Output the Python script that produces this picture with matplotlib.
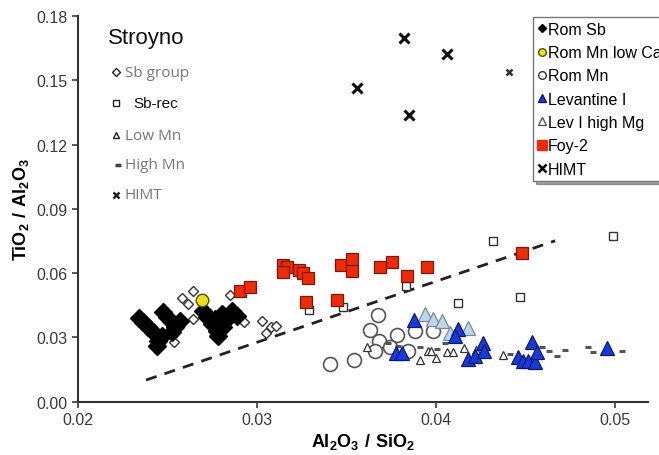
import matplotlib
matplotlib.use("Agg")
import matplotlib.pyplot as plt
from matplotlib.lines import Line2D

plt.rcParams['font.family'] = ['Liberation Sans', 'DejaVu Sans']
plt.rcParams['mathtext.fontset'] = 'custom'
plt.rcParams['mathtext.rm'] = 'Liberation Sans:bold'
plt.rcParams['mathtext.bf'] = 'Liberation Sans:bold'

# Rom Sb (black diamonds)
rom_sb_x = [0.02341, 0.02363, 0.02391, 0.02419, 0.02447, 0.02441, 0.02475, 0.02497,
            0.02469, 0.02542, 0.02570, 0.02525, 0.02698, 0.02721, 0.02749, 0.02777,
            0.02782, 0.02810, 0.02804, 0.02860, 0.02888, 0.02821, 0.02765]
rom_sb_y = [0.0391, 0.0373, 0.0349, 0.0326, 0.0284, 0.0260, 0.0419, 0.0396,
            0.0307, 0.0349, 0.0377, 0.0326, 0.0424, 0.0396, 0.0363, 0.0330,
            0.0307, 0.0349, 0.0410, 0.0424, 0.0400, 0.0377, 0.0387]

# Rom Mn low Ca (yellow circle)
rom_mn_lowca_x = [0.02693]
rom_mn_lowca_y = [0.0475]

# Rom Mn (open circles)
rom_mn_x = [0.03408, 0.03542, 0.03676, 0.03631, 0.03682, 0.03659, 0.03782, 0.03743,
            0.03844, 0.03883, 0.03983]
rom_mn_y = [0.0176, 0.0195, 0.0405, 0.0335, 0.0284, 0.0237, 0.0312, 0.0256,
            0.0237, 0.0331, 0.0331]

# Levantine I (blue triangles)
lev_x = [0.03877, 0.03777, 0.03810, 0.04123, 0.04106, 0.04179, 0.04218, 0.04263,
         0.04268, 0.04458, 0.04486, 0.04514, 0.04536, 0.04553, 0.04564, 0.04955]
lev_y = [0.0382, 0.0228, 0.0228, 0.0340, 0.0307, 0.0200, 0.0214, 0.0274,
         0.0237, 0.0209, 0.0190, 0.0190, 0.0279, 0.0186, 0.0232, 0.0251]

# Lev I high Mg (light blue triangles)
lev_mg_x = [0.03939, 0.03983, 0.04034, 0.04078, 0.04179]
lev_mg_y = [0.0410, 0.0387, 0.0377, 0.0321, 0.0345]

# Foy-2 (red squares)
foy_x = [0.02905, 0.02961, 0.03145, 0.03168, 0.03145, 0.03235, 0.03257, 0.03285,
         0.03274, 0.03447, 0.03469, 0.03531, 0.03531, 0.03687, 0.03754, 0.03838,
         0.03950, 0.04480]
foy_y = [0.0518, 0.0536, 0.0639, 0.0630, 0.0606, 0.0616, 0.0602, 0.0578,
         0.0466, 0.0475, 0.0639, 0.0667, 0.0611, 0.0630, 0.0653, 0.0588,
         0.0630, 0.0695]

# HIMT (crosses)
himt_x = [0.0382, 0.0406, 0.0356, 0.0385]
himt_y = [0.1696, 0.1625, 0.1462, 0.1336]

# Stroyno groups
sb_group_x = [0.02581, 0.02615, 0.02642, 0.02497, 0.02642, 0.02536, 0.02849, 0.02927,
              0.03028, 0.03050, 0.03078, 0.03106]
sb_group_y = [0.0485, 0.0457, 0.0517, 0.0377, 0.0387, 0.0279, 0.0499, 0.0373,
              0.0377, 0.0321, 0.0349, 0.0354]
sb_rec_x = [0.03291, 0.03480, 0.03832, 0.04123, 0.04318, 0.04469, 0.04989]
sb_rec_y = [0.0429, 0.0443, 0.0541, 0.0461, 0.0751, 0.0489, 0.0775]
low_mn_x = [0.03615, 0.03911, 0.03955, 0.03972, 0.04000, 0.04061, 0.04095, 0.04156,
            0.04223, 0.04374]
low_mn_y = [0.0256, 0.0195, 0.0237, 0.0237, 0.0204, 0.0232, 0.0232, 0.0251,
            0.0242, 0.0218]
high_mn_x = [0.03732, 0.03788, 0.03911, 0.04006, 0.04050, 0.04413, 0.04592, 0.04631,
             0.04676, 0.04721, 0.04849, 0.04877, 0.05039]
high_mn_y = [0.0274, 0.0260, 0.0256, 0.0246, 0.0274, 0.0223, 0.0256, 0.0237,
             0.0214, 0.0242, 0.0256, 0.0232, 0.0237]
s_himt_x = [0.0441]
s_himt_y = [0.1541]

# dashed discrimination line
line_x = [0.02380, 0.04665]
line_y = [0.0101, 0.0751]

x_ticks = [0.02, 0.03, 0.04, 0.05]
y_ticks = [0.00, 0.03, 0.06, 0.09, 0.12, 0.15, 0.18]

fig = plt.figure(figsize=(6.59, 4.56), dpi=100)
ax = fig.add_axes([0.1184, 0.1169, 0.8650, 0.8458])

ax.plot(line_x, line_y, ls=(0, (4, 3)), color='#222222', lw=2, zorder=1)

ax.plot(rom_mn_x, rom_mn_y, 'o', ms=10, mfc='white', mec='#555555', mew=1.2, ls='none', zorder=2)
ax.plot(sb_group_x, sb_group_y, 'D', ms=5, mfc='white', mec='#333333', mew=1, ls='none', zorder=3)
ax.plot(sb_rec_x, sb_rec_y, 's', ms=5.5, mfc='white', mec='#333333', mew=1, ls='none', zorder=3)
ax.plot(low_mn_x, low_mn_y, '^', ms=6, mfc='white', mec='#333333', mew=0.9, ls='none', zorder=3)
ax.plot(high_mn_x, high_mn_y, '_', ms=5, mec='#555555', mew=2.2, ls='none', zorder=3)
ax.plot(rom_sb_x, rom_sb_y, 'D', ms=9.5, mfc='black', mec='black', ls='none', zorder=4)
ax.plot(rom_mn_lowca_x, rom_mn_lowca_y, 'o', ms=9, mfc='#e8e020', mec='#555500', mew=1, ls='none', zorder=5)
ax.plot(foy_x, foy_y, 's', ms=9, mfc='#ee2a0a', mec='#7a1a08', mew=0.9, ls='none', zorder=4)
ax.plot(lev_mg_x, lev_mg_y, '^', ms=10.5, mfc='#bcd6ea', mec='#7a8a99', mew=0.9, ls='none', zorder=4)
ax.plot(lev_x, lev_y, '^', ms=10.5, mfc='#1a3ad8', mec='#0a1a70', mew=0.9, ls='none', zorder=5)
ax.plot(himt_x, himt_y, 'x', ms=7, mec='#111111', mew=2.2, ls='none', zorder=4)
ax.plot(s_himt_x, s_himt_y, 'x', ms=5, mec='#333333', mew=1.8, ls='none', zorder=4)

ax.set_xlim(0.02, 0.05184)
ax.set_ylim(0.0, 0.18)
ax.set_xticks(x_ticks)
ax.set_xticklabels([f'{v:.2f}' for v in x_ticks])
ax.set_yticks(y_ticks)
ax.set_yticklabels([f'{v:.2f}' for v in y_ticks])
ax.tick_params(labelsize=11.5, colors='#3a3a3a', length=4, width=1.2, direction='out')
for side in ['top', 'right']:
    ax.spines[side].set_visible(False)
for side in ['left', 'bottom']:
    ax.spines[side].set_linewidth(1.5)
    ax.spines[side].set_color('#333333')

ax.set_xlabel(r'$\mathbf{Al_2O_3\ /\ SiO_2}$', fontsize=13, labelpad=3)
ax.set_ylabel(r'$\mathbf{TiO_2\ /\ Al_2O_3}$', fontsize=13, labelpad=4)

# Stroyno key
ax.text(0.052, 0.943, 'Stroyno', transform=ax.transAxes, fontsize=16, va='center', color='#111111')
key = [
    ('D', 0.854, 'Sb group', '#777777', 'Open Sans', 4),
    ('s', 0.774, 'Sb-rec', '#111111', 'Liberation Sans', 5),
    ('^', 0.691, 'Low Mn', '#777777', 'Open Sans', 5),
    ('_', 0.614, 'High Mn', '#777777', 'Open Sans', 4),
    ('x', 0.536, 'HIMT', '#777777', 'Open Sans', 4.5),
]
for m, fy, lab, col, fam, ms in key:
    if m == '_':
        ax.plot([0.070], [fy], m, ms=ms, mec='#444444', mew=2.5, transform=ax.transAxes, clip_on=False)
    elif m == 'x':
        ax.plot([0.067], [fy], m, ms=ms, mec='#222222', mew=1.8, transform=ax.transAxes, clip_on=False)
    else:
        ax.plot([0.067], [fy], m, ms=ms, mfc='white', mec='#222222', mew=1, transform=ax.transAxes, clip_on=False)
    tx = 0.097 if lab == 'Sb-rec' else 0.082
    ax.text(tx, fy, lab, transform=ax.transAxes, fontsize=11, va='center', color=col, family=fam)

handles = [
    Line2D([], [], marker='D', ms=4, mfc='black', mec='black', ls='none'),
    Line2D([], [], marker='o', ms=5.5, mfc='#e8e020', mec='#555500', ls='none'),
    Line2D([], [], marker='o', ms=5.5, mfc='white', mec='#333333', ls='none'),
    Line2D([], [], marker='^', ms=6, mfc='#1a3ad8', mec='#0a1a70', ls='none'),
    Line2D([], [], marker='^', ms=6, mfc='white', mec='#555555', ls='none'),
    Line2D([], [], marker='s', ms=6.5, mfc='#ee2a0a', mec='#ee2a0a', ls='none'),
    Line2D([], [], marker='x', ms=5.5, mec='black', mew=1.8, ls='none'),
]
labels = ['Rom Sb', 'Rom Mn low Ca', 'Rom Mn', 'Levantine I', 'Lev I high Mg', 'Foy-2', 'HIMT']
leg = fig.legend(handles, labels, loc='upper left', bbox_to_anchor=(0.809, 0.9605),
                 fontsize=11.5, handlelength=0.5, handletextpad=0.1, labelspacing=0.52,
                 borderpad=0.3, borderaxespad=0, fancybox=False, shadow=True,
                 framealpha=1, edgecolor='#777777')
leg.get_frame().set_linewidth(1)

fig.savefig('out.png', dpi=100)
